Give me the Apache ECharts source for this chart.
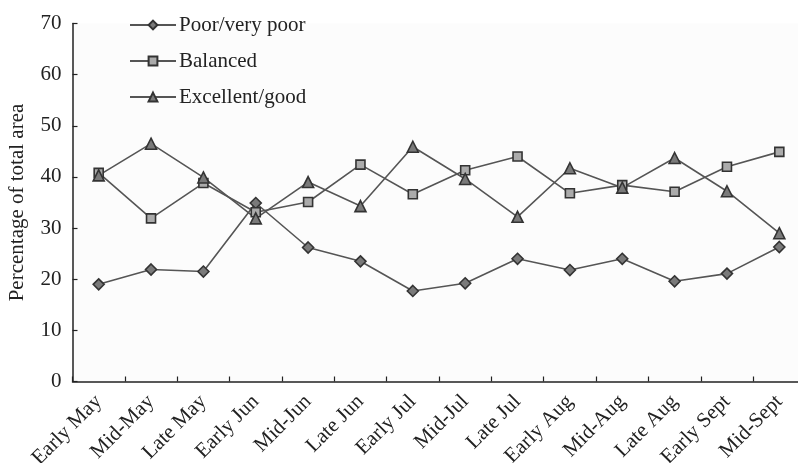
<!DOCTYPE html>
<html>
<head>
<meta charset="utf-8">
<script src="https://cdn.jsdelivr.net/npm/echarts@6/dist/echarts.min.js"></script>
<style>
html,body{margin:0;padding:0;background:#ffffff;}
#chart{width:798px;height:463px;}
</style>
</head>
<body>
<div id="chart"></div>
<script>
const categories = ['Early May','Mid-May','Late May','Early Jun','Mid-Jun','Late Jun','Early Jul','Mid-Jul','Late Jul','Early Aug','Mid-Aug','Late Aug','Early Sept','Mid-Sept'];
const poorVeryPoor = [19.0, 21.9, 21.5, 34.9, 26.2, 23.5, 17.7, 19.2, 24.0, 21.8, 24.0, 19.6, 21.1, 26.3];
const balanced = [40.8, 31.9, 38.8, 33.1, 35.1, 42.4, 36.6, 41.3, 44.0, 36.8, 38.4, 37.1, 42.0, 44.9];
const excellentGood = [40.3, 46.5, 39.9, 31.9, 39.0, 34.3, 45.9, 39.6, 32.2, 41.7, 37.9, 43.7, 37.2, 29.0];
const yTicks = { min: 0, max: 70, interval: 10 };
const seriesNames = ['Poor/very poor', 'Balanced', 'Excellent/good'];

const font = 'Liberation Serif';
const lineColor = '#555555';
const markerBorder = '#333333';

function mkSeries(name, data, symbol, size, fill) {
  return {
    name: name,
    type: 'line',
    data: data,
    symbol: symbol,
    symbolSize: size,
    lineStyle: { color: lineColor, width: 1.6 },
    itemStyle: { color: fill, borderColor: markerBorder, borderWidth: 1.6 },
    emphasis: { disabled: true },
    animation: false
  };
}

const chart = echarts.init(document.getElementById('chart'), null, { renderer: 'canvas' });
chart.setOption({
  backgroundColor: '#ffffff',
  textStyle: { fontFamily: font, color: '#222' },
  grid: { left: 72.5, top: 23.5, width: 733, bottom: 81.5, containLabel: false, outerBoundsMode: 'none', show: true, backgroundColor: '#fcfcfc', borderWidth: 0 },
  legend: {
    orient: 'vertical',
    left: 124,
    top: 9,
    itemWidth: 46,
    itemHeight: 11,
    itemGap: 14,
    data: seriesNames,
    textStyle: { fontFamily: font, fontSize: 21, color: '#222', padding: [0, 0, 0, -2], lineHeight: 22 }
  },
  xAxis: {
    type: 'category',
    data: categories,
    boundaryGap: true,
    axisLine: { show: true, lineStyle: { color: '#222', width: 1.5 } },
    axisTick: { show: true, inside: true, length: 5, lineStyle: { color: '#222', width: 1.2 } },
    axisLabel: { rotate: 45, interval: 0, margin: 17, fontFamily: font, fontSize: 21, color: '#222' },
    splitLine: { show: false }
  },
  yAxis: {
    type: 'value',
    min: yTicks.min,
    max: yTicks.max,
    interval: yTicks.interval,
    name: 'Percentage of total area',
    nameLocation: 'middle',
    nameRotate: 90,
    nameGap: 45,
    nameTextStyle: { fontFamily: font, fontSize: 21, color: '#222' },
    axisLine: { show: true, lineStyle: { color: '#222', width: 1.5 } },
    axisTick: { show: true, inside: true, length: 5, lineStyle: { color: '#222', width: 1.2 } },
    axisLabel: { margin: 11, fontFamily: font, fontSize: 21, color: '#222' },
    splitLine: { show: false }
  },
  series: [
    mkSeries(seriesNames[0], poorVeryPoor, 'diamond', 11, '#7a7a7a'),
    mkSeries(seriesNames[1], balanced, 'rect', 9, '#ababab'),
    mkSeries(seriesNames[2], excellentGood, 'triangle', 11, '#7a7a7a')
  ]
});
</script>
</body>
</html>
